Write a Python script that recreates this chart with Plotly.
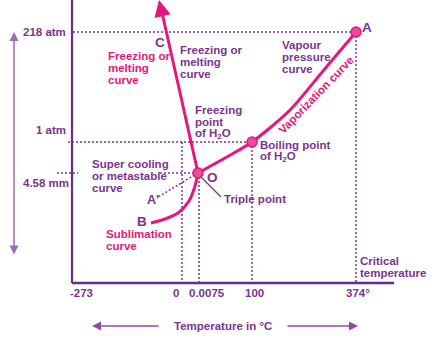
import plotly.graph_objects as go

# ---------------- data (schematic coordinates of the phase diagram) ----------------
temp_labels = ["-273", "0", "0.0075", "100", "374°"]
temp_x = [82, 182, 199, 252, 356]          # schematic temperature positions
pressure_labels = ["218 atm", "1 atm", "4.58 mm"]
pressure_y = [32, 142, 173]                  # schematic pressure positions

# freezing / melting curve  O -> C
fusion_x = [198, 161]
fusion_y = [173, 8]
# vaporization curve O -> boiling point -> A
vapor_x = [198, 225, 252, 290, 323, 356]
vapor_y = [173, 158, 142, 110, 71, 32]
# sublimation curve O -> B
sublim_x = [198, 195, 189, 178, 165, 151]
sublim_y = [173, 186, 201, 213, 219, 223]
# super-cooling (metastable) curve O -> A'
supercool_x = [198, 158]
supercool_y = [173, 197]
# special points: triple point O, boiling point, critical point A
point_x = [198, 252, 356]
point_y = [173, 142, 32]

PURPLE = "#7b3590"
PINK = "#e5177e"
FONT = "Liberation Sans, Arial, sans-serif"
FS = 11.5
W, H = 438, 341

fig = go.Figure()

dot = dict(color=PURPLE, width=1.5, dash="2px,2px")

# guide lines (dotted)
fig.add_trace(go.Scatter(x=[73, temp_x[4]], y=[pressure_y[0]] * 2, mode="lines", line=dot, hoverinfo="skip"))
fig.add_trace(go.Scatter(x=[68, temp_x[3]], y=[pressure_y[1]] * 2, mode="lines", line=dot, hoverinfo="skip"))
fig.add_trace(go.Scatter(x=[57, 78], y=[pressure_y[2]] * 2, mode="lines", line=dot, hoverinfo="skip"))
fig.add_trace(go.Scatter(x=[160, point_x[0]], y=[pressure_y[2]] * 2, mode="lines", line=dot, hoverinfo="skip"))
fig.add_trace(go.Scatter(x=[temp_x[1]] * 2, y=[pressure_y[1], 283], mode="lines", line=dot, hoverinfo="skip"))
fig.add_trace(go.Scatter(x=[temp_x[2]] * 2, y=[pressure_y[2], 283], mode="lines", line=dot, hoverinfo="skip"))
fig.add_trace(go.Scatter(x=[temp_x[3]] * 2, y=[pressure_y[1], 283], mode="lines", line=dot, hoverinfo="skip"))
fig.add_trace(go.Scatter(x=[temp_x[4]] * 2, y=[pressure_y[0], 283], mode="lines", line=dot, hoverinfo="skip"))
fig.add_trace(go.Scatter(x=supercool_x, y=supercool_y, mode="lines", line=dot, hoverinfo="skip"))

# triple point pointer
fig.add_trace(go.Scatter(x=[200, 221], y=[176, 197], mode="lines",
                         line=dict(color=PURPLE, width=1.3), hoverinfo="skip"))

# axes
fig.add_trace(go.Scatter(x=[72, 72], y=[0, 283], mode="lines",
                         line=dict(color="#6e2a88", width=2.2), hoverinfo="skip"))
fig.add_trace(go.Scatter(x=[72, 394], y=[283, 283], mode="lines",
                         line=dict(color="#6e2a88", width=2.5), hoverinfo="skip"))

# curves
fig.add_trace(go.Scatter(x=fusion_x, y=fusion_y, mode="lines",
                         line=dict(color=PINK, width=3), hoverinfo="skip"))
fig.add_trace(go.Scatter(x=vapor_x, y=vapor_y, mode="lines",
                         line=dict(color=PINK, width=3, shape="spline", smoothing=0.8), hoverinfo="skip"))
fig.add_trace(go.Scatter(x=sublim_x, y=sublim_y, mode="lines",
                         line=dict(color=PINK, width=3, shape="spline", smoothing=0.8), hoverinfo="skip"))
fig.add_trace(go.Scatter(x=point_x, y=point_y, mode="markers",
                         marker=dict(size=10, color="#ee4a9c", line=dict(color=PINK, width=1.5)),
                         hoverinfo="skip"))

ann = []


def txt(x, y, s, color=PURPLE, size=FS, xanchor="left", **kw):
    ann.append(dict(x=x, y=y, text=s, showarrow=False, xanchor=xanchor, yanchor="middle",
                    borderpad=0,
                    font=dict(family=FONT, size=size, color=color, weight="bold"), **kw))


def block(x, y0, lines, dy=12, color=PURPLE, size=FS):
    for i, s in enumerate(lines):
        txt(x, y0 + i * dy, s, color=color, size=size)


# tick labels
txt(67, pressure_y[0], pressure_labels[0], xanchor="right")
txt(67, 130, pressure_labels[1], xanchor="right")
txt(70, 183, pressure_labels[2], xanchor="right")
tick_label_x = [81, 176, 207, 254, 358]
for lx, lab in zip(tick_label_x, temp_labels):
    txt(lx, 293, lab, xanchor="center")

# annotations
txt(160, 42, "C", size=13.5, xanchor="center")
block(107, 56, ["Freezing or", "melting", "curve"], color=PINK)
block(179, 50, ["Freezing or", "melting", "curve"])
block(281, 45, ["Vapour", "pressure", "curve"])
txt(367, 27, "A", size=13.5, xanchor="center")
block(194, 110, ["Freezing", "point", "of H<sub>2</sub>O"])
block(259, 145, ["Boiling point", "of H<sub>2</sub>O"])
txt(212, 177, "O", size=13.5, xanchor="center")
block(91, 164, ["Super cooling", "or metastable", "curve"])
txt(153, 200, "A'", size=12.5, xanchor="center")
txt(142, 221, "B", size=13.5, xanchor="center")
block(105, 234, ["Sublimation", "curve"], color=PINK)
txt(223, 199, "Triple point")
block(359, 261, ["Critical", "temperature"])
txt(223, 326, "Temperature in °C", xanchor="center")
ann.append(dict(x=316, y=95, text="Vaporization curve", showarrow=False, textangle=-46,
                xanchor="center", yanchor="middle",
                font=dict(family=FONT, size=FS, color=PINK, weight="bold")))

# arrows
ann.append(dict(x=159, y=0, ax=162.6, ay=16, xref="x", yref="y", axref="x", ayref="y",
                text="", showarrow=True, arrowhead=2, arrowsize=1.1, arrowwidth=3, arrowcolor=PINK))
ann.append(dict(x=14, y=32, ax=14, ay=256, xref="x", yref="y", axref="x", ayref="y",
                text="", showarrow=True, arrowhead=2, arrowsize=1.2, arrowwidth=1.5,
                arrowside="end+start", arrowcolor="#a06ab8"))
ann.append(dict(x=92, y=326, ax=160, ay=326, xref="x", yref="y", axref="x", ayref="y",
                text="", showarrow=True, arrowhead=2, arrowsize=1.2, arrowwidth=1.5, arrowcolor="#8e4aa6"))
ann.append(dict(x=358, y=326, ax=286, ay=326, xref="x", yref="y", axref="x", ayref="y",
                text="", showarrow=True, arrowhead=2, arrowsize=1.2, arrowwidth=1.5, arrowcolor="#8e4aa6"))

fig.update_layout(
    width=W, height=H, margin=dict(l=0, r=0, t=0, b=0),
    paper_bgcolor="white", plot_bgcolor="white", showlegend=False,
    xaxis=dict(range=[0, W], visible=False, fixedrange=True),
    yaxis=dict(range=[H, 0], visible=False, fixedrange=True),
    annotations=ann,
)

fig.write_html("out.html")
